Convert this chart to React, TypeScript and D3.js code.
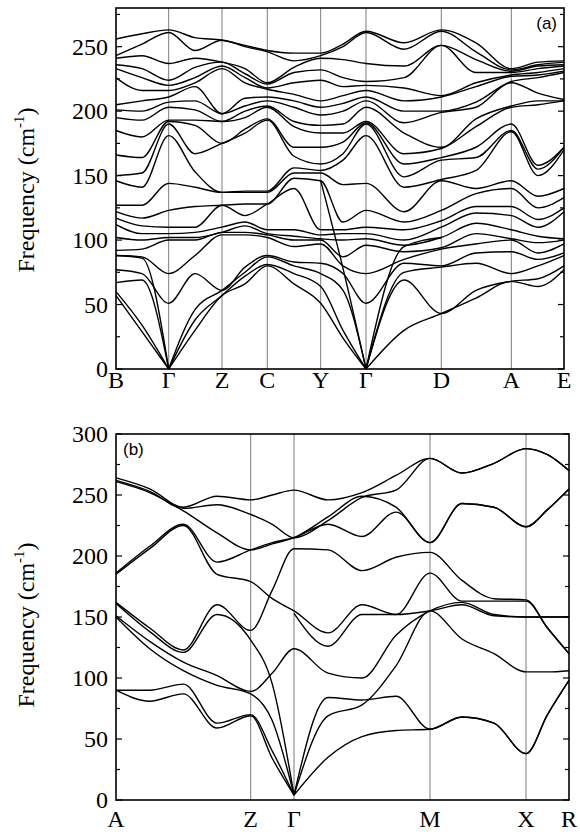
import React from 'react';
import * as d3 from 'd3';

// ---------- panel (a): B - Γ - Z - C - Y - Γ - D - A - E ----------
// path distance of every sampled column (high-symmetry points + midpoints)
const kA = [0, 26, 52.7, 79, 106, 129, 151.3, 178, 204.7, 227, 250, 288, 325.3, 360, 395.3, 422, 448];
const symKA = [0, 52.7, 106, 151.3, 204.7, 250, 325.3, 395.3, 448];
const symLabelsA = ['B', 'Γ', 'Z', 'C', 'Y', 'Γ', 'D', 'A', 'E'];
const yTicksA = [0, 50, 100, 150, 200, 250];

// frequencies (cm-1) read at each column, lowest to highest
const columnsA = [
  [57, 60, 67, 77, 88, 92, 102, 112, 117, 122, 127, 146, 150, 166, 185, 195, 201, 205, 226, 233, 236, 241, 243, 256],
  [29, 34, 69, 74, 87, 93, 100, 105, 111, 117, 127, 141, 152, 164, 180, 193, 200, 208, 216, 226, 233, 243, 252, 260],
  [0, 0, 0, 51, 74, 100, 102, 105, 110, 123, 144, 181, 190, 192, 193, 203, 207, 211, 216, 220, 224, 237, 261, 263],
  [30, 38, 46, 74, 88, 100, 102, 106, 110, 126, 141, 153, 167, 189, 193, 201, 208, 219, 222, 226, 234, 241, 247, 257],
  [57, 57, 61, 61, 104, 106, 106, 110, 127, 127, 137, 137, 175, 175, 192, 192, 198, 198, 233, 235, 238, 238, 255, 255],
  [66, 72, 75, 79, 104, 106, 111, 114, 119, 128, 137, 138, 183, 186, 195, 200, 204, 210, 222, 226, 229, 233, 250, 251],
  [80, 81, 87, 88, 102, 104, 105, 108, 128, 128, 137, 138, 193, 194, 203, 204, 208, 211, 217, 218, 221, 222, 246, 247],
  [66, 74, 80, 83, 95, 100, 103, 108, 140, 148, 152, 156, 165, 172, 188, 192, 203, 208, 213, 222, 230, 234, 239, 245],
  [51, 64, 74, 82, 97, 100, 101, 104, 108, 146, 152, 154, 159, 172, 183, 189, 197, 203, 208, 224, 232, 241, 243, 245],
  [24, 30, 61, 74, 80, 87, 100, 105, 108, 114, 143, 162, 167, 176, 183, 190, 200, 206, 212, 219, 226, 240, 250, 252],
  [0, 0, 0, 51, 74, 96, 101, 105, 110, 123, 144, 181, 190, 191, 192, 203, 208, 211, 216, 220, 223, 237, 261, 262],
  [30, 69, 75, 82, 85, 91, 96, 100, 108, 114, 122, 141, 149, 159, 167, 183, 191, 200, 208, 218, 226, 235, 248, 253],
  [43, 43, 79, 80, 93, 94, 102, 110, 115, 123, 146, 147, 162, 164, 171, 172, 199, 200, 211, 212, 251, 251, 262, 263],
  [55, 61, 82, 90, 97, 105, 113, 121, 126, 136, 140, 154, 164, 172, 188, 194, 203, 207, 219, 222, 230, 240, 246, 253],
  [68, 68, 74, 91, 100, 101, 108, 119, 126, 140, 146, 184, 185, 190, 203, 204, 222, 223, 227, 228, 230, 231, 232, 233],
  [64, 70, 80, 85, 90, 98, 103, 110, 116, 125, 134, 150, 155, 158, 205, 208, 214, 226, 228, 230, 233, 235, 236, 238],
  [77, 80, 88, 90, 97, 100, 101, 122, 125, 133, 140, 170, 172, 172, 208, 208, 209, 230, 231, 233, 235, 236, 238, 239],
];

const N = null;
// steep branches that cut across the others
const crossingA = [
  [88, 86, 0, N, N, N, N, N, N, N, N, N, N, N, N, N, N],
  [N, N, N, N, N, N, N, N, 146, 78, 0, N, N, N, N, N, N],
  [N, N, N, N, N, N, N, N, N, N, 0, 95, 102, N, N, N, N],
];
const bandsA = [...columnsA[0].map((_, i) => columnsA.map(col => col[i])), ...crossingA];

// ---------- panel (b): A - Z - Γ - M - X - R ----------
const kB = [0, 33.7, 67.4, 101, 134.7, 156.3, 178, 212, 246, 280, 314, 346, 378, 410, 431.5, 453];
const symKB = [0, 134.7, 178, 314, 410, 453];
const symLabelsB = ['A', 'Z', 'Γ', 'M', 'X', 'R'];
const yTicksB = [0, 50, 100, 150, 200, 250, 300];

const bandsB = [
  [90, 81, 87, 59, 69, 34, 4, 35, 52, 57, 58, 68, 63, 38, 70, 98],
  [90, 90, 95, 63, 70, 40, 4, 84, 82, 85, 58, 68, 63, 38, 70, 98],
  [150, 124, 106, 94, 87, 65, 4, 69, 78, 110, 155, 132, 120, 105, 105, 106],
  [151, 130, 113, 102, 89, 104, 124, 104, 100, 135, 155, 162, 152, 150, 150, 150],
  [161, 138, 121, 152, 131, 95, 4, N, N, N, N, N, N, N, N, N],
  [162, 141, 123, 160, 139, 172, 206, 205, 188, 199, 203, 180, 165, 164, 141, 120],
  [185, 206, 225, 185, 179, 165, 155, 137, 160, 152, 155, 160, 151, 150, 150, 150],
  [186, 208, 226, 195, 205, 211, 215, 226, 216, 236, 211, 243, 240, 224, 238, 255],
  [261, 252, 237, 219, 205, 210, 215, 232, 249, 240, 211, 243, 240, 224, 238, 255],
  [262, 253, 239, 242, 234, 226, 215, 229, 248, 254, 280, 268, 276, 288, 283, 270],
  [264, 255, 240, 249, 246, 250, 254, 246, 252, 266, 280, 268, 276, 288, 283, 270],
  [N, N, N, N, N, N, 153, 126, 152, 152, 186, 163, 163, 163, 141, 120],
];

const serif = '"Liberation Serif", "Times New Roman", Times, serif';
const sans = '"Liberation Sans", Arial, sans-serif';

// split a band into drawable pieces: at gaps, and at the acoustic zeros (cusp)
function pieces(ks: number[], vals: (number | null)[]) {
  const out: [number, number][][] = [];
  let cur: [number, number][] = [];
  vals.forEach((v, i) => {
    if (v == null) {
      if (cur.length > 1) out.push(cur);
      cur = [];
      return;
    }
    cur.push([ks[i], v]);
    if (v <= 5 && cur.length > 1) {
      out.push(cur);
      cur = [[ks[i], v]];
    }
  });
  if (cur.length > 1) out.push(cur);
  return out;
}

function Panel({ ks, bands, symK, symLabels, yMax, yTicks, x0, x1, y0, y1, tag, tagX, tagAnchor, tagY, titleY, labelY }: any) {
  const x = d3.scaleLinear().domain([0, ks[ks.length - 1]]).range([x0, x1]);
  const y = d3.scaleLinear().domain([0, yMax]).range([y1, y0]);
  const line = d3.line<[number, number]>()
    .x(d => x(d[0]))
    .y(d => y(d[1]))
    .curve(d3.curveMonotoneX);
  const minor = d3.range(0, yMax + 0.1, 25);

  return (
    <g>
      {symK.slice(1, -1).map((k: number, i: number) => (
        <line key={'v' + i} x1={x(k)} x2={x(k)} y1={y0} y2={y1} stroke="#7a7a7a" strokeWidth={1} />
      ))}
      {bands.map((b: (number | null)[], i: number) =>
        pieces(ks, b).map((p, j) => (
          <path key={i + '-' + j} d={line(p) || ''} fill="none" stroke="#000" strokeWidth={1.4} />
        ))
      )}
      {minor.map(v => {
        const len = v % 50 === 0 ? 6 : 4;
        return (
          <g key={'t' + v}>
            <line x1={x0} x2={x0 + len} y1={y(v)} y2={y(v)} stroke="#000" strokeWidth={1.2} />
            <line x1={x1} x2={x1 - len} y1={y(v)} y2={y(v)} stroke="#000" strokeWidth={1.2} />
          </g>
        );
      })}
      <rect x={x0} y={y0} width={x1 - x0} height={y1 - y0} fill="none" stroke="#000" strokeWidth={1.6} />
      {yTicks.map((v: number) => (
        <text key={'l' + v} x={x0 - 8} y={y(v)} dy="0.34em" textAnchor="end" fontFamily={serif} fontSize={24}>
          {v}
        </text>
      ))}
      {symK.map((k: number, i: number) => (
        <text key={'s' + i} x={x(k)} y={labelY} textAnchor="middle" fontFamily={serif} fontSize={24}>
          {symLabels[i]}
        </text>
      ))}
      <text transform={`translate(34,${titleY}) rotate(-90)`} textAnchor="middle" fontFamily={serif} fontSize={24}>
        Frequency (cm<tspan fontSize={15} dy={-10}>-1</tspan><tspan dy={10}>)</tspan>
      </text>
      <text x={tagX} y={tagY} textAnchor={tagAnchor} fontFamily={sans} fontSize={17}>
        {tag}
      </text>
    </g>
  );
}

export default function App() {
  return (
    <svg width={580} height={832} style={{ position: 'absolute', left: 0, top: 0, background: '#fff' }}>
      <rect width={580} height={832} fill="#fff" />
      <Panel
        ks={kA} bands={bandsA} symK={symKA} symLabels={symLabelsA}
        yMax={280} yTicks={yTicksA}
        x0={116} x1={564} y0={8} y1={369}
        tag="(a)" tagX={557} tagAnchor="end" tagY={29}
        titleY={190} labelY={388}
      />
      <Panel
        ks={kB} bands={bandsB} symK={symKB} symLabels={symLabelsB}
        yMax={300} yTicks={yTicksB}
        x0={116} x1={569} y0={434} y1={800}
        tag="(b)" tagX={123} tagAnchor="start" tagY={455}
        titleY={625} labelY={827}
      />
    </svg>
  );
}
